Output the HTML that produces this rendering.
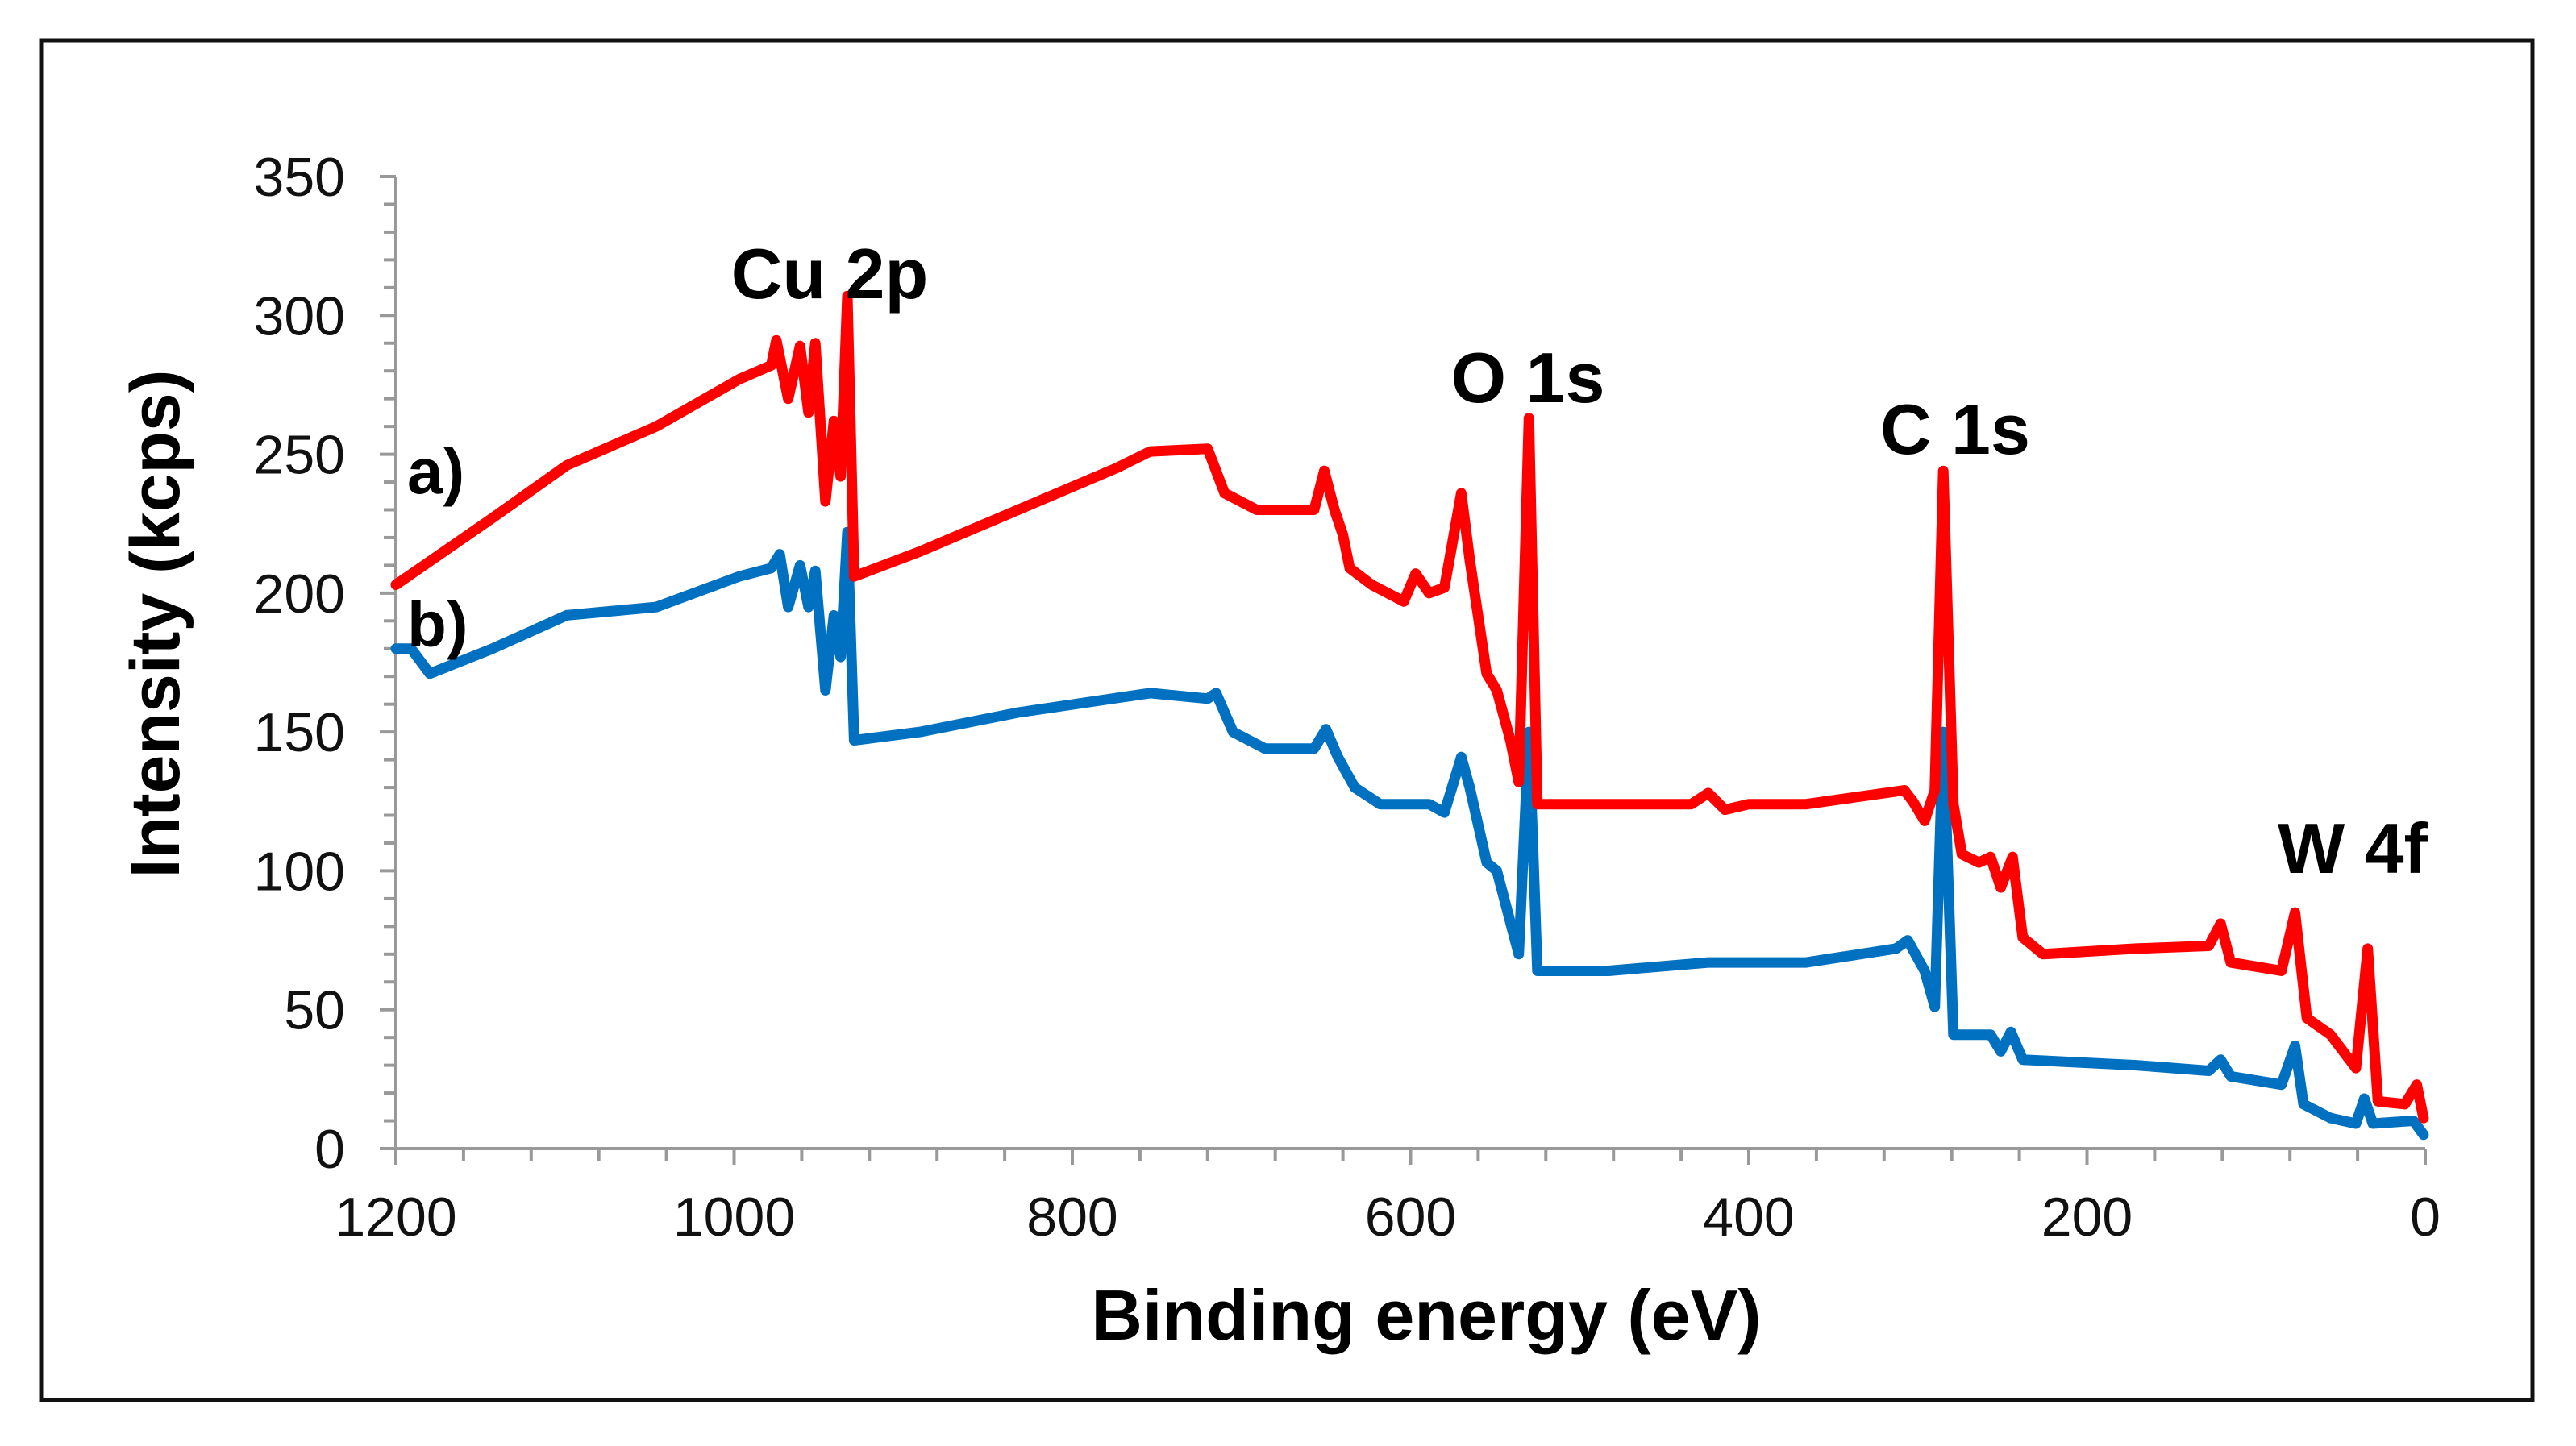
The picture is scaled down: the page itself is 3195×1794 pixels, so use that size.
<!DOCTYPE html>
<html><head><meta charset="utf-8"><style>
html,body{margin:0;padding:0;background:#fff;}
svg{display:block;font-family:"Liberation Sans",Arial,sans-serif;}
</style></head><body>
<svg id="chart" width="3195" height="1794" viewBox="0 0 3195 1794" xmlns="http://www.w3.org/2000/svg">
<rect x="51" y="50" width="3090" height="1687" fill="#fff" stroke="#111" stroke-width="5"/>
<g id="axes"></g>
<g id="series"></g>
<text x="1769" y="1662" font-size="88" font-weight="bold" text-anchor="middle">Binding energy (eV)</text>
<text transform="translate(222,774) rotate(-90)" font-size="86" font-weight="bold" text-anchor="middle">Intensity  (kcps)</text>
<text x="1029" y="370" font-size="88" font-weight="bold" text-anchor="middle">Cu 2p</text>
<text x="1895" y="499" font-size="88" font-weight="bold" text-anchor="middle">O 1s</text>
<text x="2425" y="563" font-size="88" font-weight="bold" text-anchor="middle">C 1s</text>
<text x="2918" y="1083" font-size="88" font-weight="bold" text-anchor="middle">W 4f</text>
<text x="505" y="612" font-size="80" font-weight="bold">a)</text>
<text x="505" y="802" font-size="80" font-weight="bold">b)</text>
</svg>
<script>
const xTicks = [1200,1000,800,600,400,200,0];
const yTicks = [0,50,100,150,200,250,300,350];
const energyA = [1200,1143,1099,1046,997,978,975,968,961,956,952,946,941,937,933,929,890,832,774,754,720,710,691,657,651,645,640,636,623,604,597,589,580,570,565,555,549,541,536,530,525,483,434,424,414,400,366,308,303,296,290,285,279,274,264,257,251,244,238,226,171,128,121,115,85,77,70,56,41,34,28,12,5,1];
const intensityA = [203,227,246,260,277,282,291,270,289,265,290,233,262,242,307,206,215,230,245,251,252,236,230,230,244,230,221,209,203,197,207,200,202,236,212,171,165,147,132,263,124,124,124,128,122,124,124,129,125,118,129,244,124,106,103,105,94,105,76,70,72,73,81,67,64,85,47,41,29,72,17,16,23,11];
const energyB = [1200,1191,1180,1143,1099,1046,997,978,973,968,961,956,952,946,941,937,933,929,890,832,754,720,715,705,686,657,650,643,633,618,589,580,570,565,555,549,536,530,525,483,424,366,313,306,296,290,285,279,257,251,245,238,171,128,121,115,85,77,72,56,41,36,31,7,1];
const intensityB = [180,180,171,180,192,195,206,209,214,195,210,195,208,165,192,177,222,147,150,157,164,162,164,150,144,144,151,141,130,124,124,121,141,130,103,100,70,150,64,64,67,67,72,75,64,51,150,41,41,35,42,32,30,28,32,26,23,37,16,11,9,18,9,10,5];

const NS='http://www.w3.org/2000/svg';
const X0=491, X1=3008, Y0=1425, Y1=219;
function xs(v){return X0+(1200-v)/1200*(X1-X0);}
function ys(v){return Y0-v/350*(Y0-Y1);}
function mk(tag,attrs,parent){const e=document.createElementNS(NS,tag);for(const k in attrs)e.setAttribute(k,attrs[k]);parent.appendChild(e);return e;}
const axes=document.getElementById('axes');
const grey='#999';
const yAxis=mk('line',{x1:X0,y1:Y0,x2:X0,y2:Y1,stroke:grey,'stroke-width':4},axes);


const xAxis=mk('line',{x1:X0,y1:Y0,x2:X1,y2:Y0,stroke:grey,'stroke-width':4},axes);


for(let v=0;v<=350;v+=10){
  const major=v%50===0;
  const t=mk('line',{x1:X0-(major?20:15),y1:ys(v),x2:X0,y2:ys(v),stroke:grey,'stroke-width':4},axes);
  
  
}
yTicks.forEach(v=>{
  const t=mk('text',{x:428,y:ys(v)+24,'font-size':68,'text-anchor':'end',fill:'#111'},axes);
  t.textContent=v;
  
  
});
for(let v=0;v<=1200;v+=40){
  const major=v%200===0;
  const t=mk('line',{x1:xs(v),y1:Y0,x2:xs(v),y2:Y0+(major?20:15),stroke:grey,'stroke-width':4},axes);
  
  
}
xTicks.forEach(v=>{
  const t=mk('text',{x:xs(v),y:1533,'font-size':68,'text-anchor':'middle',fill:'#111'},axes);
  t.textContent=v;
  
  
});
const series=document.getElementById('series');
function drawLine(E,I,color,name){
  const d=E.map((e,i)=>(i?'L':'M')+xs(e).toFixed(1)+','+ys(I[i]).toFixed(1)).join(' ');
  const p=mk('path',{d:d,fill:'none',stroke:color,'stroke-width':13,'stroke-linejoin':'round','stroke-linecap':'round'},series);
  
  
}
drawLine(energyB,intensityB,'#0070c0','series-b-line');
drawLine(energyA,intensityA,'#ff0000','series-a-line');
</script>
</body></html>
